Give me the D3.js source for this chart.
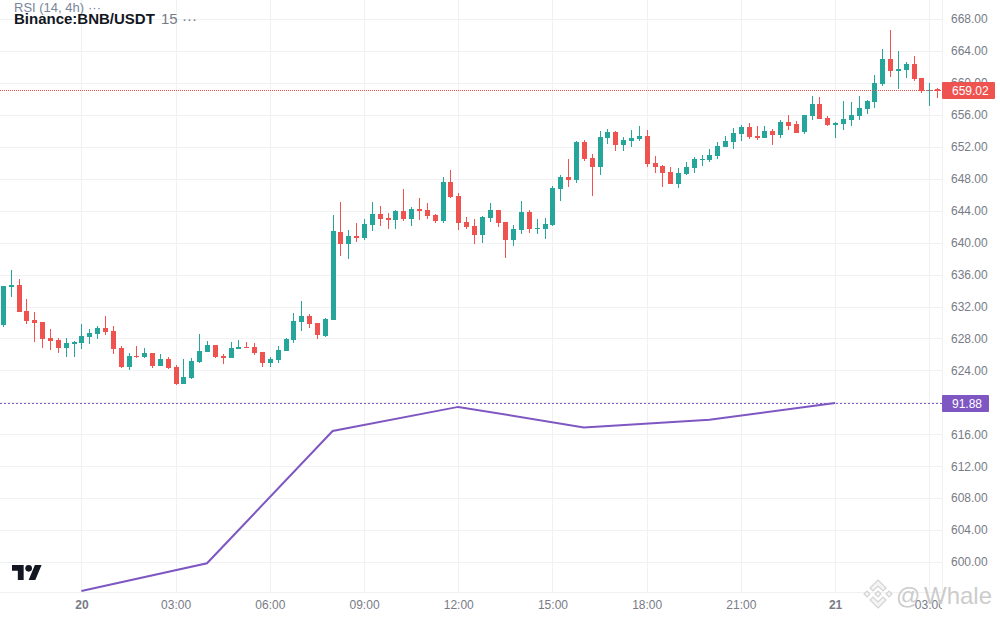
<!DOCTYPE html>
<html>
<head>
<meta charset="utf-8">
<script src="https://cdn.jsdelivr.net/npm/d3@7"></script>
<style>
  html, body { margin: 0; padding: 0; background: #fff; }
  svg { display: block; font-family: "Liberation Sans", Arial, sans-serif; }
</style>
</head>
<body>
<div id="chart"></div>
<script>
// 15 minute candles, first one at 19th 21:30
const firstCandle = Date.UTC(2024, 0, 19, 21, 30);

const opens = [
  629.68,634.43,634.68,631.43,630.30,630.05,628.05,627.80,626.80,627.30,
  627.43,628.18,628.55,629.30,628.93,626.80,624.43,625.80,625.68,626.18,
  624.55,625.43,624.43,622.30,623.05,625.05,626.30,627.18,625.80,625.55,
  626.68,626.93,626.93,626.30,624.93,625.30,626.43,627.80,630.05,630.80,
  629.93,628.30,630.30,641.34,639.84,640.84,640.59,642.21,643.59,643.09,
  642.84,643.96,642.96,644.21,644.09,643.46,642.71,647.59,645.84,642.59,
  642.09,640.96,643.09,644.09,642.59,640.34,641.59,643.84,641.71,641.71,
  642.21,646.71,648.24,647.86,652.61,650.61,649.48,653.11,653.86,652.23,
  652.73,652.98,653.36,649.98,649.61,648.86,647.36,648.61,649.36,650.36,
  650.36,650.86,651.98,652.61,653.61,654.48,653.36,653.11,653.98,653.51,
  655.13,654.88,653.88,655.88,657.38,655.63,654.76,654.88,655.38,655.88,
  656.76,657.63,659.88,663.01,661.51,661.63,662.38,660.63,659.01,659.26
];
const highs = [
  634.55,636.55,635.43,632.92,631.30,630.05,629.18,628.05,628.05,627.68,
  629.80,629.18,629.55,630.80,629.55,627.05,626.18,627.05,626.80,626.18,
  626.05,625.68,624.68,625.43,625.55,628.55,627.68,627.18,626.05,627.55,
  627.80,627.55,627.43,626.30,625.68,627.05,628.05,631.18,632.68,631.05,
  629.93,630.55,643.47,645.09,641.59,642.46,642.96,645.09,644.59,643.71,
  644.09,646.71,644.46,645.59,644.96,643.59,648.21,649.09,646.21,643.21,
  642.96,643.34,644.96,644.09,642.59,642.21,645.21,644.09,642.96,643.09,
  647.09,648.46,650.48,652.73,652.86,651.11,653.98,654.23,653.98,653.23,
  654.11,654.61,654.11,650.86,649.73,649.48,649.36,650.11,650.73,650.98,
  651.73,652.61,653.36,654.36,654.73,654.98,654.61,654.61,654.23,655.38,
  656.01,655.26,656.01,658.38,658.26,655.88,655.13,657.76,657.63,658.38,
  657.88,661.01,664.26,666.63,664.01,662.63,663.38,660.63,660.00,659.38
];
const lows = [
  629.47,633.22,631.30,629.80,627.55,626.80,626.55,626.18,625.68,625.68,
  626.68,627.30,627.93,628.43,626.05,624.30,624.05,625.55,625.55,624.30,
  624.55,624.18,622.18,622.30,622.93,624.93,626.30,625.55,624.80,625.55,
  626.68,626.80,625.93,624.43,624.43,624.93,626.43,627.43,628.93,629.30,
  627.93,628.18,630.30,638.34,637.97,640.09,640.34,641.46,642.09,641.71,
  641.71,642.71,642.09,642.84,642.96,642.46,642.46,645.59,641.59,641.71,
  639.84,639.96,642.59,641.96,638.09,639.59,641.09,641.21,641.09,640.46,
  642.09,645.21,646.99,647.48,650.23,645.86,648.48,652.36,651.48,651.48,
  651.98,652.73,649.48,648.73,646.99,647.36,646.86,648.48,648.73,649.61,
  650.11,650.48,651.98,651.73,652.73,652.98,652.86,653.11,652.23,653.13,
  654.13,653.76,653.63,655.38,655.51,654.63,653.13,654.13,654.63,655.38,
  656.13,656.88,659.63,660.76,659.26,660.63,660.26,658.76,657.13,658.13
];
const closes = [
  634.55,634.68,631.30,630.18,629.93,627.93,627.68,626.80,627.43,627.55,
  628.30,628.68,629.30,628.80,626.68,624.43,625.80,625.68,626.18,624.55,
  625.43,624.30,622.30,623.18,625.18,626.43,627.18,625.68,625.55,626.80,
  626.93,626.80,626.18,624.93,625.43,626.55,627.93,630.18,630.80,629.80,
  628.43,630.43,641.47,639.84,640.84,640.59,642.34,643.59,642.96,642.84,
  643.96,642.96,644.21,643.96,643.34,642.71,647.59,645.71,642.46,641.96,
  640.96,643.21,644.09,642.46,640.34,641.71,643.84,641.71,641.84,642.34,
  646.84,648.21,647.86,652.61,650.48,649.48,653.23,653.86,652.23,652.86,
  653.11,653.36,649.86,649.48,648.73,647.36,648.73,649.48,650.48,650.48,
  650.98,652.11,652.73,653.73,654.48,653.23,653.11,653.98,653.48,655.13,
  654.63,653.76,656.01,657.38,655.51,654.76,655.00,655.51,656.01,656.88,
  657.76,660.01,663.01,661.51,661.76,662.38,660.51,659.01,659.13,659.01
];

// RSI, one value per 4h candle
const rsiTimes = [
  Date.UTC(2024, 0, 20, 0), Date.UTC(2024, 0, 20, 4), Date.UTC(2024, 0, 20, 8),
  Date.UTC(2024, 0, 20, 12), Date.UTC(2024, 0, 20, 16), Date.UTC(2024, 0, 20, 20),
  Date.UTC(2024, 0, 21, 0)
];
const rsiValues = [39.7, 47.4, 84.1, 90.8, 85.1, 87.2, 91.88];

const priceTicks = [600,604,608,612,616,620,624,628,632,636,640,644,648,652,656,660,664,668];
const timeTicks = [
  Date.UTC(2024, 0, 20, 0), Date.UTC(2024, 0, 20, 3), Date.UTC(2024, 0, 20, 6),
  Date.UTC(2024, 0, 20, 9), Date.UTC(2024, 0, 20, 12), Date.UTC(2024, 0, 20, 15),
  Date.UTC(2024, 0, 20, 18), Date.UTC(2024, 0, 20, 21), Date.UTC(2024, 0, 21, 0),
  Date.UTC(2024, 0, 21, 3)
];
const lastPrice = 659.02;
const lastRsi = 91.88;

const width = 1000, height = 620;
const plotRight = 942, plotBottom = 592;

const green = "#26a69a", red = "#ef5350", purple = "#7e57c2";
const gridColor = "#f0f1f3", axisText = "#787b86";

const x = d3.scaleUtc()
  .domain([Date.UTC(2024, 0, 20, 0), Date.UTC(2024, 0, 21, 0)])
  .range([81.4, 835.1]);
const y = d3.scaleLinear().domain([600, 664]).range([562, 51]);
const rsiY = d3.scaleLinear().domain([39.7, 91.88]).range([591, 403]);

const svg = d3.select("#chart").append("svg")
  .attr("width", width)
  .attr("height", height);

svg.append("defs").append("clipPath").attr("id", "plotclip")
  .append("rect").attr("width", plotRight).attr("height", height);

// grid
svg.append("g").selectAll("line").data(priceTicks).join("line")
  .attr("x1", 0).attr("x2", plotRight)
  .attr("y1", d => Math.round(y(d)) + 0.5).attr("y2", d => Math.round(y(d)) + 0.5)
  .attr("stroke", gridColor);
svg.append("g").selectAll("line").data(timeTicks).join("line")
  .attr("x1", d => Math.round(x(d)) + 0.5).attr("x2", d => Math.round(x(d)) + 0.5)
  .attr("y1", 0).attr("y2", plotBottom)
  .attr("stroke", gridColor);

// axis borders
svg.append("line").attr("x1", plotRight + 0.5).attr("x2", plotRight + 0.5)
  .attr("y1", 0).attr("y2", plotBottom).attr("stroke", gridColor);
svg.append("line").attr("x1", 0).attr("x2", plotRight)
  .attr("y1", plotBottom + 0.5).attr("y2", plotBottom + 0.5).attr("stroke", gridColor);

// rsi line goes under the candles
const rsiLine = d3.line()
  .x((d, i) => x(rsiTimes[i]))
  .y(d => rsiY(d));
svg.append("path")
  .datum(rsiValues)
  .attr("d", rsiLine)
  .attr("fill", "none")
  .attr("stroke", purple)
  .attr("stroke-width", 2);

// candles
const candles = d3.range(closes.length);
const candleX = i => Math.round(x(firstCandle + i * 15 * 60000));
const candleColor = i => closes[i] >= opens[i] ? green : red;

const cg = svg.append("g").attr("clip-path", "url(#plotclip)").attr("shape-rendering", "crispEdges");
cg.selectAll(".wick").data(candles).join("rect")
  .attr("class", "wick")
  .attr("x", i => candleX(i))
  .attr("width", 1)
  .attr("y", i => y(highs[i]))
  .attr("height", i => y(lows[i]) - y(highs[i]))
  .attr("fill", candleColor);
cg.selectAll(".body").data(candles).join("rect")
  .attr("class", "body")
  .attr("x", i => candleX(i) - 2)
  .attr("width", 5)
  .attr("y", i => y(Math.max(opens[i], closes[i])))
  .attr("height", i => Math.max(1, Math.abs(y(opens[i]) - y(closes[i]))))
  .attr("fill", candleColor);

// last value lines, on top of the candles
const priceRow = Math.floor(y(lastPrice)) + 0.5;
const rsiRow = Math.floor(rsiY(lastRsi)) + 0.5;
svg.append("line")
  .attr("x1", 0).attr("x2", plotRight)
  .attr("y1", priceRow).attr("y2", priceRow)
  .attr("stroke", red)
  .attr("shape-rendering", "crispEdges")
  .attr("stroke-dasharray", "1 1");
svg.append("line")
  .attr("x1", 0).attr("x2", plotRight)
  .attr("y1", rsiRow).attr("y2", rsiRow)
  .attr("stroke", purple)
  .attr("shape-rendering", "crispEdges")
  .attr("stroke-dasharray", "2 2");

// price axis
const yAxis = d3.axisRight(y)
  .tickValues(priceTicks)
  .tickFormat(d3.format(".2f"))
  .tickSize(0)
  .tickPadding(9);
svg.append("g")
  .attr("transform", `translate(${plotRight},0)`)
  .call(yAxis)
  .call(g => g.select(".domain").remove())
  .call(g => g.selectAll("text").attr("fill", axisText).attr("font-size", 12).attr("font-family", "inherit"));

// time axis
const xAxis = d3.axisBottom(x)
  .tickValues(timeTicks)
  .tickFormat(d => new Date(d).getUTCHours() === 0
    ? d3.utcFormat("%-d")(d) : d3.utcFormat("%H:%M")(d))
  .tickSize(0)
  .tickPadding(8);
svg.append("g")
  .attr("clip-path", "url(#plotclip)")
  .append("g")
  .attr("transform", `translate(0,${plotBottom})`)
  .call(xAxis)
  .call(g => g.select(".domain").remove())
  .call(g => g.selectAll("text")
    .attr("fill", axisText)
    .attr("font-size", 12)
    .attr("font-family", "inherit")
    .attr("font-weight", d => new Date(d).getUTCHours() === 0 ? "bold" : "normal"));

// value labels on the axis
function valueLabel(yPos, w, color, text) {
  svg.append("rect")
    .attr("x", plotRight).attr("y", yPos - 8.5)
    .attr("width", w).attr("height", 17)
    .attr("rx", 1)
    .attr("fill", color);
  svg.append("text")
    .attr("x", plotRight + 10).attr("y", yPos + 4.5)
    .attr("fill", "#fff")
    .attr("font-size", 12)
    .text(text);
}
valueLabel(priceRow, 53, red, d3.format(".2f")(lastPrice));
valueLabel(rsiRow, 47, purple, d3.format(".2f")(lastRsi));

// legend
svg.append("text").attr("x", 14).attr("y", 12)
  .attr("fill", "#7b8599").attr("font-size", 13).text("RSI (14, 4h)");
svg.append("text").attr("x", 88).attr("y", 12)
  .attr("fill", "#7b8599").attr("font-size", 13).text("···");
svg.append("text").attr("x", 14).attr("y", 24)
  .attr("fill", "#131722").attr("font-size", 15).attr("font-weight", "bold").text("Binance:BNB/USDT");
svg.append("text").attr("x", 161).attr("y", 24)
  .attr("fill", "#787b86").attr("font-size", 15).text("15");
svg.append("text").attr("x", 182).attr("y", 24)
  .attr("fill", "#787b86").attr("font-size", 15).text("···");

// tradingview logo
const logo = svg.append("g").attr("transform", "translate(12,561.7) scale(0.833)").attr("fill", "#131722");
logo.append("path").attr("d", "M14 22H7V11H0V4h14v18zM28 22h-8l7.5-18h8L28 22z");
logo.append("circle").attr("cx", 20).attr("cy", 8).attr("r", 4);

// watermark
const wm = svg.append("g").attr("transform", "translate(878,594)")
  .attr("fill", "#f4f4f4").attr("stroke", "#d4d4d4").attr("stroke-width", 1.2);
wm.append("path").attr("d", "M0 -14L8 -6L5 -3L0 -8L-5 -3L-8 -6Z");
wm.append("path").attr("d", "M0 14L8 6L5 3L0 8L-5 3L-8 6Z");
wm.append("path").attr("d", "M-14 0L-11 -3L-8 0L-11 3Z");
wm.append("path").attr("d", "M14 0L11 -3L8 0L11 3Z");
wm.append("path").attr("d", "M0 -3L3 0L0 3L-3 0Z");
svg.append("text").attr("x", 896).attr("y", 604)
  .attr("fill", "#cccccc").attr("font-size", 24).text("@");
svg.append("text").attr("x", 924).attr("y", 604)
  .attr("fill", "#cccccc").attr("font-size", 24).text("Whale");
</script>
</body>
</html>
